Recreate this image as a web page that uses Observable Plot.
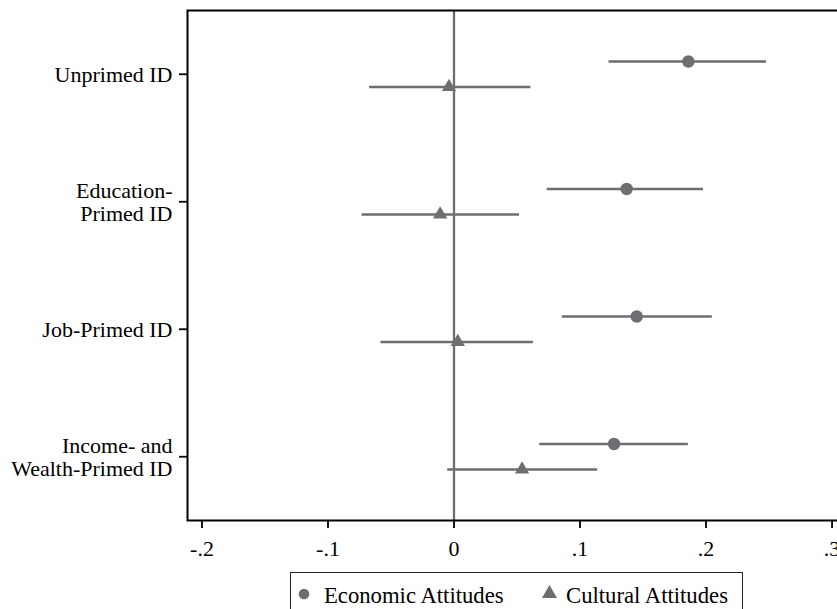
<!DOCTYPE html>
<html>
<head>
<meta charset="utf-8">
<script src="https://cdn.jsdelivr.net/npm/d3@7"></script>
<script src="https://cdn.jsdelivr.net/npm/@observablehq/plot@0.6"></script>
<style>
  html, body { margin: 0; padding: 0; background: white; overflow: hidden; }
  body { position: relative; width: 837px; height: 609px; font-family: "Liberation Serif", "Times New Roman", serif; }
  #legend { position: absolute; left: 290px; top: 572px; width: 453px; height: 50px; border: 1.5px solid #222; box-sizing: border-box; }
  #legend .item { position: absolute; top: 0; font-size: 22.7px; line-height: 22px; color: black; white-space: nowrap; }
  #legend svg { position: absolute; }
</style>
</head>
<body>
<div id="chart"></div>
<div id="legend">
  <svg style="left:6px;top:14px" width="14" height="14"><circle cx="7" cy="7" r="5.3" fill="#6e6e72"></circle></svg>
  <span class="item" style="left:33px;top:12px">Economic Attitudes</span>
  <svg style="left:250px;top:11px" width="17" height="15"><polygon points="8.5,1 16,14 1,14" fill="#6e6e72"></polygon></svg>
  <span class="item" style="left:275px;top:12px">Cultural Attitudes</span>
</div>
<script>
// Data
const categories = ["Unprimed ID", "Education-\nPrimed ID", "Job-Primed ID", "Income- and\nWealth-Primed ID"];
const econEst = [0.186, 0.137, 0.145, 0.127];
const econLo  = [0.123, 0.074, 0.086, 0.068];
const econHi  = [0.248, 0.198, 0.205, 0.186];
const cultEst = [-0.004, -0.011, 0.003, 0.054];
const cultLo  = [-0.067, -0.073, -0.058, -0.005];
const cultHi  = [0.061, 0.052, 0.063, 0.114];
const xTicks = [-0.2, -0.1, 0, 0.1, 0.2, 0.3];
const xTickLabels = ["-.2", "-.1", "0", ".1", ".2", ".3"];

const gray = "#6e6e72";
const econ = categories.map((c, i) => ({row: i + 1 - 0.1, est: econEst[i], lo: econLo[i], hi: econHi[i]}));
const cult = categories.map((c, i) => ({row: i + 1 + 0.1, est: cultEst[i], lo: cultLo[i], hi: cultHi[i]}));

const chart = Plot.plot({
  width: 837,
  height: 572,
  marginLeft: 187,
  marginRight: -20,
  marginTop: 10,
  marginBottom: 52,
  style: {fontFamily: "'Liberation Serif', 'Times New Roman', serif", fontSize: "22px", color: "black", background: "white"},
  x: {domain: [-0.2115, 0.3202]},
  y: {domain: [0.5, 4.5], reverse: true},
  marks: [
    Plot.ruleX([0], {stroke: gray, strokeWidth: 2.3}),
    Plot.ruleY(econ, {y: "row", x1: "lo", x2: "hi", stroke: gray, strokeWidth: 2.5}),
    Plot.ruleY(cult, {y: "row", x1: "lo", x2: "hi", stroke: gray, strokeWidth: 2.5}),
    Plot.dot(econ, {x: "est", y: "row", r: 6.2, fill: gray, symbol: "circle"}),
    Plot.dot(cult, {x: "est", y: "row", r: 5.3, fill: gray, symbol: "triangle"}),
    Plot.frame({stroke: "black", strokeWidth: 2}),
    Plot.axisY({ticks: [1, 2, 3, 4], tickFormat: d => categories[d - 1], tickSize: 8, tickPadding: 7, strokeWidth: 1.8, fontSize: 22, lineHeight: 1.06, label: null}),
    Plot.axisX({ticks: xTicks, tickFormat: d => xTickLabels[xTicks.indexOf(d)], tickSize: 8, tickPadding: 12, strokeWidth: 1.8, fontSize: 22, label: null})
  ]
});
document.getElementById("chart").appendChild(chart);
</script>
</body>
</html>
